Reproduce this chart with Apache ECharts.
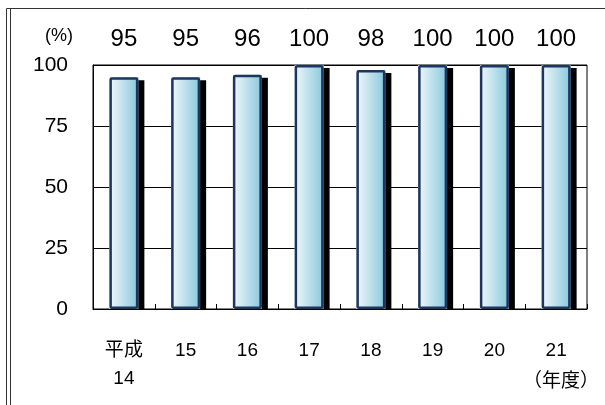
<!DOCTYPE html>
<html><head><meta charset="utf-8">
<style>html,body{margin:0;padding:0;background:#fff}#c{width:605px;height:405px}</style>
<script src="https://cdn.jsdelivr.net/npm/echarts@6/dist/echarts.min.js"></script>
</head><body><div id="c"></div>
<script>
const categories = ['平成\n14','15','16','17','18','19','20','21'];
const values = [95, 95, 96, 100, 98, 100, 100, 100];
const yTicks = [0, 25, 50, 75, 100];
const unitLabel = '(%)';
const xUnitLabel = '（年度）';

const FONT = "'Liberation Sans', 'Noto Sans CJK JP', sans-serif";
const chart = echarts.init(document.getElementById('c'), null, {renderer:'canvas'});
chart.setOption({
  animation: false,
  backgroundColor: '#fff',
  grid: {left: 93, right: 18, top: 65, bottom: 96, show: true, borderColor: '#000', borderWidth: 1},
  xAxis: [{
    type: 'category', data: categories, position: 'bottom', z: 10,
    axisLine: {lineStyle: {color: '#000', width: 1}},
    axisTick: {show: true, inside: true, length: 5, lineStyle: {color: '#000'}},
    axisLabel: {color: '#000', fontSize: 19, fontFamily: FONT, margin: 28, lineHeight: 28}
  }, {
    type: 'category', data: values.map(String), position: 'top',
    axisLine: {show: false}, axisTick: {show: false},
    axisLabel: {color: '#000', fontSize: 24, fontFamily: FONT, margin: 14}
  }],
  yAxis: {
    type: 'value', min: yTicks[0], max: yTicks[yTicks.length-1], interval: 25,
    axisLine: {show: true, lineStyle: {color: '#000'}},
    axisTick: {show: false},
    splitLine: {show: true, lineStyle: {color: '#000', width: 1}},
    axisLabel: {color: '#000', fontSize: 21, fontFamily: FONT, margin: 25}
  },
  graphic: [
    {type: 'rect', z: 5, shape: {x: 92, y: 310, width: 500, height: 8}, style: {fill: '#fff'}},
    {type: 'text', left: 45, top: 27, style: {text: unitLabel, fontSize: 18, fontFamily: FONT, fill: '#000'}},
    {type: 'text', right: 6, top: 372, style: {text: xUnitLabel, fontSize: 19, fontFamily: FONT, fill: '#000'}},
    {type: 'line', shape: {x1: 6.5, y1: 8.5, x2: 605, y2: 8.5}, style: {stroke: '#333', lineWidth: 1}},
    {type: 'line', shape: {x1: 6.5, y1: 8.5, x2: 6.5, y2: 405}, style: {stroke: '#333', lineWidth: 1}},
    {type: 'line', shape: {x1: 10.5, y1: 8.5, x2: 10.5, y2: 405}, style: {stroke: '#333', lineWidth: 1}}
  ],
  series: [{
    type: 'bar', data: values, xAxisIndex: 0, barWidth: 29,
    itemStyle: {
      color: new echarts.graphic.LinearGradient(0, 0, 1, 0, [
        {offset: 0, color: '#F0F8FB'}, {offset: 1, color: '#88C8DB'}
      ]),
      borderWidth: 0,
      shadowColor: '#000', shadowBlur: 0, shadowOffsetX: 6, shadowOffsetY: 3
    }
  }, {
    type: 'bar', data: values, xAxisIndex: 0, barWidth: 29, barGap: '-100%',
    itemStyle: {color: 'rgba(0,0,0,0)', borderColor: '#1C365E', borderWidth: 2.5, borderRadius: 1}
  }]
});
</script></body></html>
